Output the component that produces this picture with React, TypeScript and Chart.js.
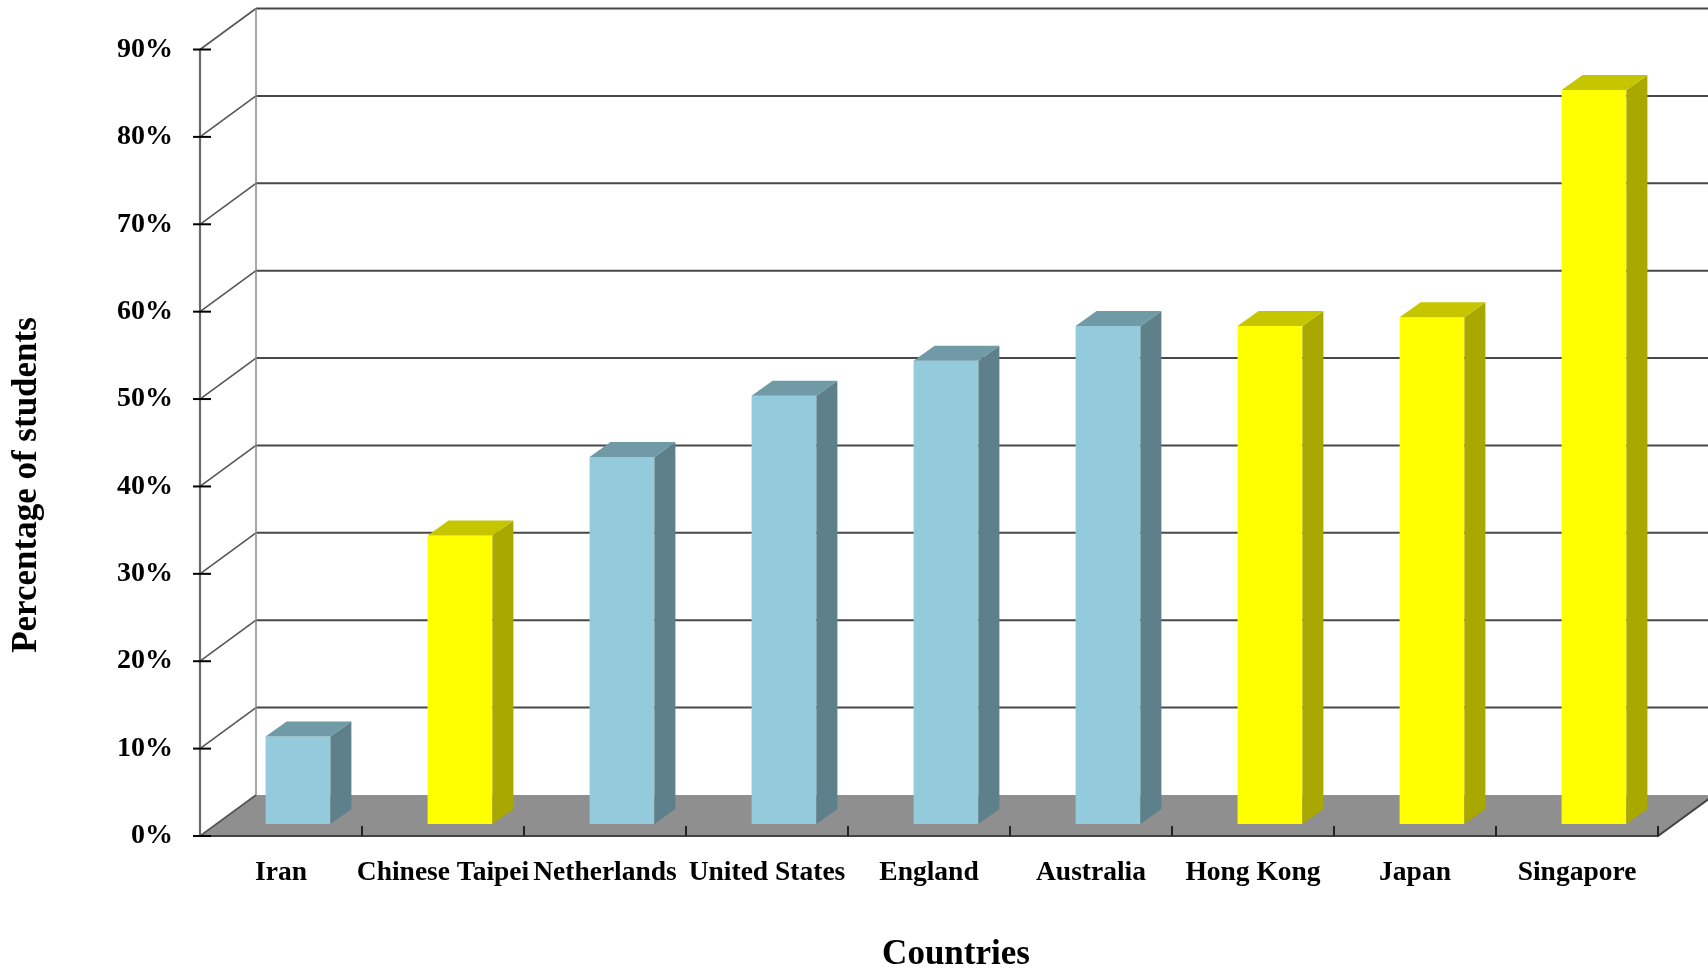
import React, { useEffect, useRef } from 'react';
import { Chart, registerables } from 'chart.js';

Chart.register(...registerables);

const categories = ['Iran', 'Chinese Taipei', 'Netherlands', 'United States', 'England', 'Australia', 'Hong Kong', 'Japan', 'Singapore'];
const values = [10, 33, 42, 49, 53, 57, 57, 58, 84];
const yTickValues = [0, 10, 20, 30, 40, 50, 60, 70, 80, 90];
const xTitle = 'Countries';
const yTitle = 'Percentage of students';

const BLUE = { front: '#93cbdc', side: '#5e808a', top: '#6f9aa6' };
const YELLOW = { front: '#ffff00', side: '#a8a800', top: '#c6c600' };
const barStyles = [BLUE, YELLOW, BLUE, BLUE, BLUE, BLUE, YELLOW, YELLOW, YELLOW];

const FONT = '"Liberation Serif", "Times New Roman", serif';
const WALL_DX = 56;
const WALL_DY = -41;
const BAR_SHIFT_X = 17;
const BAR_SHIFT_Y = -12;
const BAR_DX = 21;
const BAR_DY = -15;

const threeD = {
  id: 'threeD',
  beforeDraw(chart: any) {
    const { ctx, chartArea, scales } = chart;
    const xs = scales.x;
    const ys = scales.y;
    const W = chart.width;
    const left = chartArea.left;
    const right = chartArea.right;
    const y0 = ys.getPixelForValue(0);
    ctx.save();
    ctx.fillStyle = '#ffffff';
    ctx.fillRect(0, 0, chart.width, chart.height);
    // floor
    ctx.fillStyle = '#8f8f8f';
    ctx.beginPath();
    ctx.moveTo(left, y0);
    ctx.lineTo(right, y0);
    ctx.lineTo(right + WALL_DX, y0 + WALL_DY);
    ctx.lineTo(left + WALL_DX, y0 + WALL_DY);
    ctx.closePath();
    ctx.fill();
    // back wall gridlines
    ctx.strokeStyle = '#484848';
    ctx.lineWidth = 2;
    yTickValues.forEach((v) => {
      if (v === 0) return;
      const py = ys.getPixelForValue(v) + WALL_DY;
      ctx.beginPath();
      ctx.moveTo(left + WALL_DX, py);
      ctx.lineTo(W, py);
      ctx.stroke();
    });
    // side wall diagonals
    ctx.strokeStyle = '#555555';
    ctx.lineWidth = 1.6;
    yTickValues.forEach((v) => {
      const py = ys.getPixelForValue(v);
      ctx.beginPath();
      ctx.moveTo(left, py);
      ctx.lineTo(left + WALL_DX, py + WALL_DY);
      ctx.stroke();
    });
    // back vertical edge
    ctx.strokeStyle = '#8a8a8a';
    ctx.lineWidth = 1.5;
    ctx.beginPath();
    ctx.moveTo(left + WALL_DX, ys.getPixelForValue(90) + WALL_DY);
    ctx.lineTo(left + WALL_DX, y0 + WALL_DY);
    ctx.stroke();
    // floor front edge & right edge
    ctx.strokeStyle = '#444444';
    ctx.lineWidth = 2;
    ctx.beginPath();
    ctx.moveTo(left, y0);
    ctx.lineTo(right, y0);
    ctx.lineTo(right + WALL_DX, y0 + WALL_DY);
    ctx.stroke();
    // category tick marks
    ctx.strokeStyle = '#222222';
    ctx.lineWidth = 2;
    for (let i = 0; i < categories.length; i++) {
      const bx = i < categories.length - 1 ? (xs.getPixelForValue(i) + xs.getPixelForValue(i + 1)) / 2 : right;
      ctx.beginPath();
      ctx.moveTo(bx, y0 - 10);
      ctx.lineTo(bx, y0);
      ctx.stroke();
    }
    // front vertical axis
    ctx.strokeStyle = '#6a6a6a';
    ctx.lineWidth = 2.2;
    ctx.beginPath();
    ctx.moveTo(left, ys.getPixelForValue(90));
    ctx.lineTo(left, y0);
    ctx.stroke();
    // y tick marks
    ctx.strokeStyle = '#000000';
    ctx.lineWidth = 2;
    yTickValues.forEach((v) => {
      const py = ys.getPixelForValue(v);
      ctx.beginPath();
      ctx.moveTo(left - 7, py);
      ctx.lineTo(left + 11, py);
      ctx.stroke();
    });
    ctx.restore();
  },
  beforeDatasetsDraw(chart: any) {
    // shift the bar plane into the middle of the depth
    chart.ctx.save();
    chart.ctx.translate(BAR_SHIFT_X, BAR_SHIFT_Y);
  },
  afterDatasetsDraw(chart: any) {
    const { ctx } = chart;
    const meta = chart.getDatasetMeta(0);
    meta.data.forEach((bar: any, i: number) => {
      const p = bar.getProps(['x', 'y', 'base', 'width'], true);
      const l = p.x - p.width / 2;
      const r = p.x + p.width / 2;
      const st = barStyles[i];
      ctx.fillStyle = st.side;
      ctx.beginPath();
      ctx.moveTo(r, p.y);
      ctx.lineTo(r + BAR_DX, p.y + BAR_DY);
      ctx.lineTo(r + BAR_DX, p.base + BAR_DY);
      ctx.lineTo(r, p.base);
      ctx.closePath();
      ctx.fill();
      ctx.fillStyle = st.top;
      ctx.beginPath();
      ctx.moveTo(l, p.y);
      ctx.lineTo(l + BAR_DX, p.y + BAR_DY);
      ctx.lineTo(r + BAR_DX, p.y + BAR_DY);
      ctx.lineTo(r, p.y);
      ctx.closePath();
      ctx.fill();
    });
    ctx.restore();
  },
  afterDraw(chart: any) {
    const { ctx } = chart;
    ctx.save();
    ctx.fillStyle = '#000000';
    ctx.font = `bold 35px ${FONT}`;
    ctx.textAlign = 'center';
    ctx.textBaseline = 'middle';
    ctx.fillText(xTitle, 956, 955);
    ctx.translate(27, 485);
    ctx.rotate(-Math.PI / 2);
    ctx.fillText(yTitle, 0, 0);
    ctx.restore();
  },
};

export default function App() {
  const ref = useRef<HTMLCanvasElement | null>(null);
  useEffect(() => {
    if (!ref.current) return;
    const chart = new Chart(ref.current, {
      type: 'bar',
      data: {
        labels: categories,
        datasets: [
          {
            data: values,
            backgroundColor: barStyles.map((s) => s.front),
            borderWidth: 0,
            barPercentage: 0.4,
            categoryPercentage: 1,
            clip: false as any,
          },
        ],
      },
      options: {
        animation: false,
        responsive: true,
        maintainAspectRatio: false,
        layout: { padding: { left: 0, right: 50, top: 49.5, bottom: 0 } },
        plugins: { legend: { display: false }, tooltip: { enabled: false } },
        scales: {
          x: {
            grid: { display: false, drawTicks: false },
            border: { display: false },
            ticks: {
              autoSkip: false,
              maxRotation: 0,
              minRotation: 0,
              padding: 20,
              color: '#000000',
              font: { family: FONT, size: 27.5, weight: 'bold' },
            },
            afterFit: (s: any) => {
              s.height = 134;
            },
          },
          y: {
            min: 0,
            max: 90,
            grid: { display: false, drawTicks: false },
            border: { display: false },
            ticks: {
              stepSize: 10,
              padding: 27,
              color: '#000000',
              font: { family: FONT, size: 28, weight: 'bold' },
              callback: (v: any) => `${v}%`,
            },
            afterFit: (s: any) => {
              s.width = 200;
            },
          },
        },
      },
      plugins: [threeD],
    });
    return () => chart.destroy();
  }, []);
  return (
    <div style={{ position: 'absolute', left: 0, top: 0, width: 1708, height: 970, background: '#ffffff' }}>
      <canvas ref={ref} />
    </div>
  );
}
